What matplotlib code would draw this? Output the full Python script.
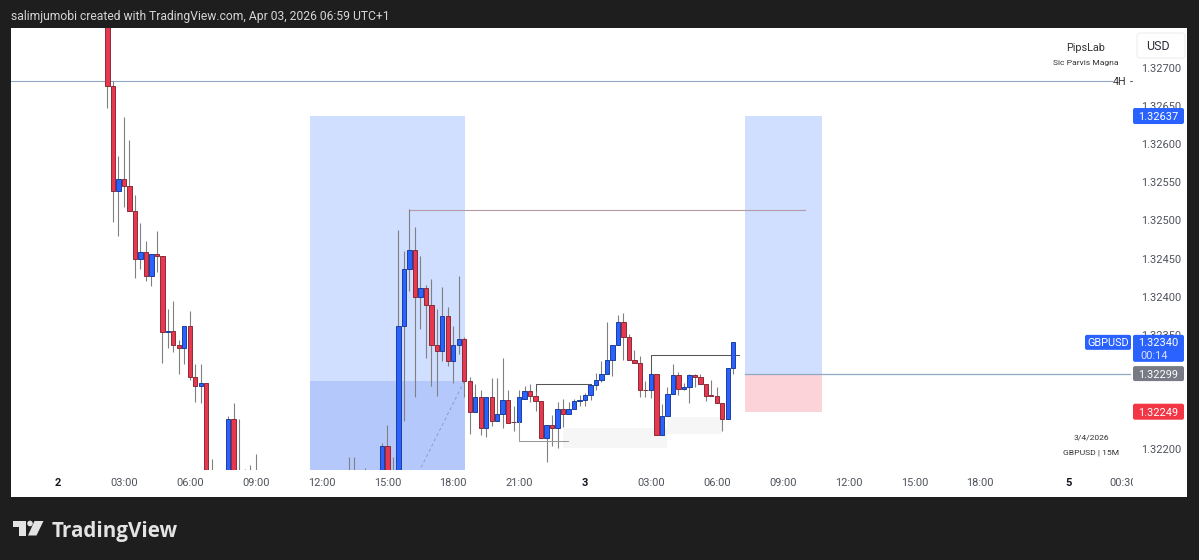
import numpy as np
import matplotlib
matplotlib.use("Agg")
import matplotlib.pyplot as plt
from matplotlib.patches import Rectangle, FancyBboxPatch, Polygon, Circle
from matplotlib.transforms import Bbox

plt.rcParams['font.family'] = ['Roboto', 'DejaVu Sans']

# 15-minute candles: bar number since Apr 2 00:00, prices in 1e-5 units
bars = [9,10,11,12,13,14,15,16,17,18,19,20,21,22,23,24,25,26,27,28,31,32,33,34,35,36,53,54,56,59,60,61,62,63,64,65,66,67,68,69,70,71,72,73,74,75,76,77,78,79,80,81,82,83,84,85,86,87,88,89,90,91,92,93,94,95,96,97,98,99,100,101,102,103,104,105,106,107,108,109,110,111,112,113,114,115,116,117,118,119,120,121,122,123]
opens = [132790,132676,132538,132554,132545,132512,132450,132459,132427,132456,132453,132353,132355,132336,132333,132361,132295,132283,132287,132150,132160,132240,132150,132130,132150,132160,132150,132140,132130,132120,132204,132120,132140,132362,132436,132461,132399,132411,132389,132336,132328,132375,132315,132337,132345,132289,132249,132268,132228,132268,132237,132246,132265,132236,132235,132266,132276,132269,132263,132215,132231,132228,132252,132246,132252,132263,132264,132271,132284,132291,132299,132317,132337,132367,132347,132317,132313,132278,132277,132298,132219,132243,132272,132297,132279,132281,132297,132294,132285,132271,132270,132260,132240,132306]
highs = [132800,132683,132584,132636,132606,132534,132496,132473,132456,132486,132453,132384,132394,132343,132361,132381,132311,132312,132287,132187,132243,132260,132239,132174,132179,132193,132189,132189,132175,132208,132232,132189,132487,132460,132515,132491,132453,132415,132423,132384,132413,132387,132362,132427,132347,132294,132285,132277,132268,132293,132293,132319,132277,132256,132277,132283,132285,132276,132263,132231,132245,132262,132266,132262,132266,132271,132273,132284,132300,132315,132367,132337,132376,132378,132351,132330,132322,132289,132298,132298,132259,132281,132312,132301,132287,132299,132299,132298,132285,132290,132281,132260,132306,132340]
lows = [132648,132498,132480,132517,132512,132425,132436,132421,132414,132432,132313,132332,132327,132298,132312,132291,132262,132261,132130,132110,132140,132140,132120,132100,132120,132130,132120,132110,132100,132100,132100,132080,132100,132237,132407,132268,132357,132320,132283,132270,132315,132309,132287,132325,132268,132220,132249,132218,132216,132230,132237,132228,132234,132224,132235,132266,132262,132250,132215,132183,132204,132202,132229,132246,132252,132256,132256,132265,132277,132288,132299,132296,132337,132317,132317,132313,132268,132268,132267,132219,132219,132243,132272,132271,132277,132260,132282,132285,132263,132269,132260,132224,132240,132298]
closes = [132676,132538,132554,132545,132512,132450,132459,132427,132456,132453,132353,132355,132336,132333,132361,132295,132283,132287,132150,132130,132240,132150,132130,132150,132160,132165,132140,132130,132150,132204,132120,132140,132362,132436,132461,132399,132411,132389,132336,132328,132375,132315,132337,132345,132289,132249,132268,132228,132268,132237,132246,132265,132234,132235,132268,132276,132269,132263,132215,132231,132228,132252,132246,132252,132263,132264,132271,132284,132291,132299,132317,132337,132367,132347,132317,132313,132278,132277,132298,132219,132243,132272,132297,132279,132281,132297,132294,132285,132270,132269,132260,132240,132306,132340]

price_ticks = [1.32700, 1.32650, 1.32600, 1.32550, 1.32500, 1.32450, 1.32400, 1.32350, 1.32200]
time_ticks = [0, 12, 24, 36, 48, 60, 72, 84, 96, 108, 120, 132, 144, 156, 168, 184, 194]
time_labels = ['2', '03:00', '06:00', '09:00', '12:00', '15:00', '18:00', '21:00', '3',
               '03:00', '06:00', '09:00', '12:00', '15:00', '18:00', '5', '00:30']

last_price = 1.32340
entry_price = 1.32299
target_price = 1.32637
stop_price = 1.32249
level_4h = 1.32683
swing_high = 1.32514
left_box_top = 1.32637
left_box_mid = 1.32289

DARK = '#1e1e1e'
BLUE = '#2962ff'
RED = '#e8384f'
W, H = 1199, 560

fig = plt.figure(figsize=(W / 100, H / 100), dpi=100, facecolor=DARK)

def ax_rect(x0, y0, x1, y1):
    return [x0 / W, 1 - y1 / H, (x1 - x0) / W, (y1 - y0) / H]

bg = fig.add_axes([0, 0, 1, 1], zorder=0)
bg.set_xlim(0, W); bg.set_ylim(H, 0); bg.axis('off')
bg.add_patch(Rectangle((10.5, 28), 1176.5, 468.5, fc='white', ec='none'))

ax = fig.add_axes(ax_rect(11, 28, 1131, 470), zorder=1)
ax.patch.set_alpha(0)
ax.set_xlim(-8.561, 195.45)
ax.set_ylim(1.321725, 1.327525)
for s in ax.spines.values():
    s.set_visible(False)

b = np.array(bars, float)
o, h, l, c = [np.array(v) / 1e5 for v in (opens, highs, lows, closes)]
up = c >= o

LIGHT = '#d0deff'
DEEP = '#b4c8fc'
ax.add_patch(Rectangle((45.9, left_box_mid), 28.2, left_box_top - left_box_mid, fc=LIGHT, ec='none', zorder=1))
ax.add_patch(Rectangle((45.9, 1.3215), 28.2, left_box_mid - 1.3215, fc=DEEP, ec='none', zorder=1))
ax.add_patch(Rectangle((125.1, entry_price), 14.1, target_price - entry_price, fc=LIGHT, ec='none', zorder=1))
ax.add_patch(Rectangle((125.1, stop_price), 14.1, entry_price - stop_price, fc='#fbd3d8', ec='none', zorder=1))
ax.add_patch(Rectangle((92, 1.32201), 19, 0.00027, fc='#f6f6f6', ec='none', zorder=1))
ax.add_patch(Rectangle((111, 1.32220), 10, 0.00022, fc='#f6f6f6', ec='none', zorder=1))

ax.plot([-9, 192], [level_4h, level_4h], color='#8fa9c4', lw=0.8, zorder=2)
ax.plot([125.1, 196], [entry_price, entry_price], color='#8fa9c4', lw=0.9, zorder=2)
ax.plot([64, 136], [swing_high, swing_high], color='#b39aa5', lw=0.8, zorder=2)
ax.plot([74, 65.9], [left_box_mid, 1.321725], color='#8a9bc4', lw=0.7, ls=(0, (3, 3)), zorder=2)

ax.vlines(b, l, h, color='#808080', lw=0.8, zorder=3)
ax.bar(b[up], (c - o)[up], bottom=o[up], width=0.8, color=BLUE, edgecolor='#1c3f9e', lw=0.7, zorder=4)
ax.bar(b[~up], (o - c)[~up], bottom=c[~up], width=0.8, color=RED, edgecolor='#8a2b38', lw=0.7, zorder=4)

ax.plot([84, 84, 92.9], [1.32235, 1.32210, 1.32210], color='#999999', lw=0.75, zorder=5)
ax.plot([87, 87, 97], [1.32263, 1.32285, 1.32285], color='#555555', lw=0.75, zorder=2.5)
ax.plot([108, 108, 124], [1.32298, 1.32323, 1.32323], color='#555555', lw=0.75, zorder=2.5)

ax.yaxis.tick_right()
ax.set_yticks(price_ticks)
ax.set_yticklabels([f'{p:.5f}' for p in price_ticks])
ax.set_xticks(time_ticks)
ax.set_xticklabels(time_labels)
ax.tick_params(axis='y', length=0, pad=7.5, labelsize=7.9, labelcolor='#4f535c')
ax.tick_params(axis='x', length=0, pad=5.5, labelsize=7.9, labelcolor='#4f535c')
for t, lab in zip(ax.get_xticklabels(), time_labels):
    if len(lab) == 1:
        t.set_color('#131722')
        t.set_fontweight('bold')
    if lab == '00:30':
        t.set_clip_on(True)
        t.set_clip_box(Bbox([[0, 0], [1133, H]]))

ov = fig.add_axes([0, 0, 1, 1], zorder=2)
ov.set_xlim(0, W); ov.set_ylim(H, 0); ov.axis('off')
ov.patch.set_alpha(0)

def py(price):
    return H - ax.transData.transform((0, price))[1]

def badge(x0, x1, yc, hgt, color, label, fs=7.9, tcolor='white'):
    ov.add_patch(FancyBboxPatch((x0 + 1, yc - hgt / 2 + 1), x1 - x0 - 2, hgt - 2,
                                boxstyle='round,pad=1,rounding_size=2', fc=color, ec='none'))
    if label:
        ov.text((x0 + x1) / 2, yc, label, color=tcolor, fontsize=fs, ha='center', va='center_baseline')

ov.text(11, 15, 'salimjumobi created with TradingView.com, Apr 03, 2026 06:59 UTC+1',
        color='#d6d6d6', fontsize=8.7, ha='left', va='center_baseline')

ov.add_patch(FancyBboxPatch((1138, 34), 46, 23, boxstyle='round,pad=1,rounding_size=3', fc='white', ec='#eeeeee', lw=0.8))
ov.text(1158, 45.5, 'USD', color='#2a2e39', fontsize=9, ha='center', va='center_baseline')
ov.text(1086, 47, 'PipsLab', color='#333333', fontsize=7.8, ha='center', va='center_baseline')
ov.text(1086, 63, 'Sic Parvis Magna', color='#333333', fontsize=6.1, ha='center', va='center_baseline')
ov.text(1119.5, 81, '4H', color='#333333', fontsize=7.8, ha='center', va='center_baseline')
ov.text(1131, 81, '-', color='#333333', fontsize=7.8, ha='center', va='center_baseline')
ov.text(1091, 437, '3/4/2026', color='#333333', fontsize=6.1, ha='center', va='center_baseline')
ov.text(1091, 452, 'GBPUSD | 15M', color='#333333', fontsize=6.1, ha='center', va='center_baseline')

badge(1133, 1184, py(target_price), 16, BLUE, f'{target_price:.5f}')
badge(1085, 1131, py(last_price), 15, BLUE, 'GBPUSD')
badge(1133, 1184, py(last_price) + 6, 27, BLUE, '')
ov.text(1158.5, py(last_price), f'{last_price:.5f}', color='white', fontsize=7.9, ha='center', va='center_baseline')
ov.text(1154, py(last_price) + 13, '00:14', color='#d5dfff', fontsize=7.9, ha='center', va='center_baseline')
badge(1133, 1184, py(entry_price), 15, '#787b86', f'{entry_price:.5f}')
badge(1133, 1184, py(stop_price), 16, '#f23645', f'{stop_price:.5f}')

LOGO = '#e3e3e3'
ov.add_patch(Polygon([(12.5, 521), (26, 521), (26, 535.5), (19, 535.5), (19, 527), (12.5, 527)], fc=LOGO, ec='none'))
ov.add_patch(Circle((30, 523.5), 2.8, fc=LOGO, ec='none'))
ov.add_patch(Polygon([(34.5, 521), (43.5, 521), (36.5, 535.5), (28, 535.5)], fc=LOGO, ec='none'))
ov.text(51.5, 529.5, 'TradingView', color=LOGO, fontsize=14.9, fontweight='bold',
        family=['Open Sans', 'DejaVu Sans'], ha='left', va='center_baseline')

fig.savefig('out.png', dpi=100, facecolor=DARK)
